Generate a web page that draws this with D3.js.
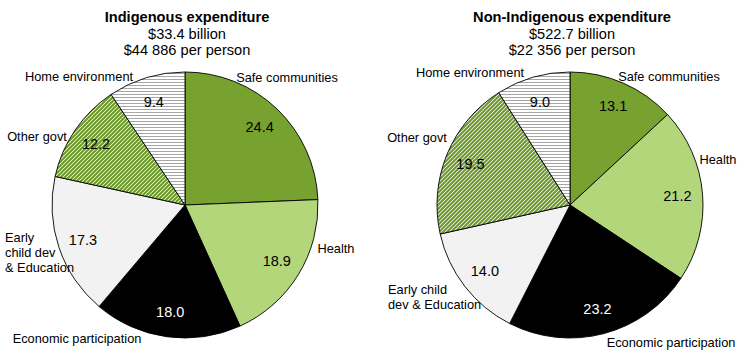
<!DOCTYPE html>
<html>
<head>
<meta charset="utf-8">
<script src="https://cdn.jsdelivr.net/npm/d3@7"></script>
<style>
  html, body { margin: 0; padding: 0; background: #fff; }
  svg { display: block; font-family: "Liberation Sans", Arial, sans-serif; }
</style>
</head>
<body>
<svg id="chart" width="750" height="360"></svg>
<script>
// ---- Data ----
const categories = ["Safe communities", "Health", "Economic participation",
                    "Early child dev & Education", "Other govt", "Home environment"];
const indigenousValues = [24.4, 18.9, 18.0, 17.3, 12.2, 9.4];
const nonIndigenousValues = [13.1, 21.2, 23.2, 14.0, 19.5, 9.0];
const chartTitles = ["Indigenous expenditure", "Non-Indigenous expenditure"];
const chartTotals = ["$33.4 billion", "$522.7 billion"];
const chartPerPerson = ["$44 886 per person", "$22 356 per person"];

// ---- Layout (category label placements, relative to each pie centre) ----
const labelLayout = [
  [ // Indigenous
    {lines: ["Safe communities"], dx: 102, dy: -128, anchor: "middle"},
    {lines: ["Health"], dx: 151, dy: 43, anchor: "middle"},
    {lines: ["Economic participation"], dx: -108, dy: 133, anchor: "middle"},
    {lines: ["Early", "child dev", "& Education"], dx: -180, dy: 47, anchor: "start"},
    {lines: ["Other govt"], dx: -148, dy: -69, anchor: "middle"},
    {lines: ["Home environment"], dx: -106, dy: -129, anchor: "middle"}
  ],
  [ // Non-Indigenous
    {lines: ["Safe communities"], dx: 99, dy: -129, anchor: "middle"},
    {lines: ["Health"], dx: 148, dy: -46, anchor: "middle"},
    {lines: ["Economic participation"], dx: 101, dy: 137, anchor: "middle"},
    {lines: ["Early child", "dev & Education"], dx: -182, dy: 92, anchor: "start"},
    {lines: ["Other govt"], dx: -153, dy: -68, anchor: "middle"},
    {lines: ["Home environment"], dx: -100, dy: -133, anchor: "middle"}
  ]
];

const svg = d3.select("#chart");
const defs = svg.append("defs");

// diagonal hatch (Other govt)
const hatch = defs.append("pattern")
  .attr("id", "hatch").attr("patternUnits", "userSpaceOnUse")
  .attr("width", 4).attr("height", 4);
hatch.append("rect").attr("width", 4).attr("height", 4).attr("fill", "#fff");
hatch.append("path").attr("d", "M-1,1 l2,-2 M0,4 l4,-4 M3,5 l2,-2")
  .attr("stroke", "#6c9a28").attr("stroke-width", 2.1);

// horizontal lines (Home environment)
const hlines = defs.append("pattern")
  .attr("id", "hlines").attr("patternUnits", "userSpaceOnUse")
  .attr("width", 4).attr("height", 3);
hlines.append("rect").attr("width", 4).attr("height", 3).attr("fill", "#fff");
hlines.append("rect").attr("y", 0).attr("width", 4).attr("height", 1).attr("fill", "#a6a6a6");

const fills = ["#77a22f", "#b3d67a", "#000000", "#f2f2f2", "url(#hatch)", "url(#hlines)"];
const valueColors = ["#000", "#000", "#fff", "#000", "#000", "#000"];

const color = d3.scaleOrdinal().domain(categories).range(fills);
const textColor = d3.scaleOrdinal().domain(categories).range(valueColors);

const R = 133;
const centers = [{x: 185, y: 205}, {x: 570, y: 205}];
const datasets = [indigenousValues, nonIndigenousValues];

const pie = d3.pie().sort(null).value(d => d.value).startAngle(0).endAngle(2 * Math.PI);
const arc = d3.arc().innerRadius(0).outerRadius(R);
const labelArc = d3.arc().innerRadius(R * 0.81).outerRadius(R * 0.81);

datasets.forEach((vals, i) => {
  const c = centers[i];
  const data = categories.map((cat, k) => ({cat, value: vals[k]}));
  const g = svg.append("g").attr("transform", `translate(${c.x},${c.y})`);
  const arcs = pie(data);

  g.selectAll("path.slice").data(arcs).join("path")
    .attr("class", "slice")
    .attr("d", arc)
    .attr("fill", d => color(d.data.cat))
    .attr("stroke", "#000")
    .attr("stroke-width", 0.9);

  g.selectAll("text.val").data(arcs).join("text")
    .attr("class", "val")
    .attr("transform", d => `translate(${labelArc.centroid(d)})`)
    .attr("text-anchor", "middle")
    .attr("dominant-baseline", "central")
    .attr("font-size", 14.5)
    .attr("fill", d => textColor(d.data.cat))
    .text(d => d.data.value.toFixed(1));

  // category labels
  labelLayout[i].forEach(l => {
    const t = g.append("text")
      .attr("x", l.dx).attr("y", l.dy)
      .attr("text-anchor", l.anchor)
      .attr("font-size", 12.8)
      .attr("fill", "#000");
    const n = l.lines.length;
    l.lines.forEach((line, j) => {
      t.append("tspan")
        .attr("x", l.dx)
        .attr("y", l.dy + (j - (n - 1) / 2) * 15 + 4.5)
        .text(line);
    });
  });

  // titles
  const tg = svg.append("g").attr("transform", `translate(${c.x + 2},0)`);
  tg.append("text").attr("y", 22).attr("text-anchor", "middle")
    .attr("font-size", 14.6).attr("font-weight", "bold").text(chartTitles[i]);
  tg.append("text").attr("y", 39).attr("text-anchor", "middle")
    .attr("font-size", 14.6).text(chartTotals[i]);
  tg.append("text").attr("y", 55).attr("text-anchor", "middle")
    .attr("font-size", 14.6).text(chartPerPerson[i]);
});
</script>
</body>
</html>
